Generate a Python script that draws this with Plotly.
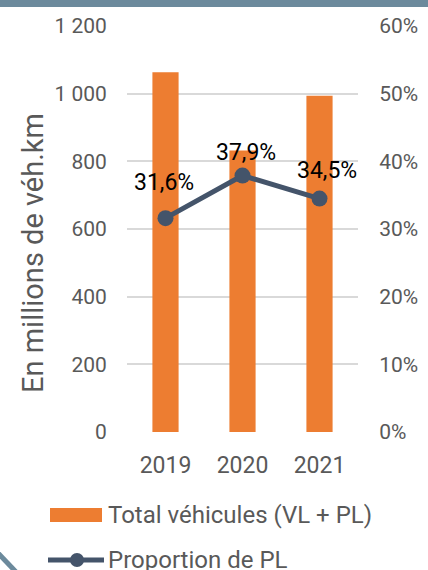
import plotly.graph_objects as go

years = ["2019", "2020", "2021"]
total_vehicules = [1063, 832, 994]
proportion_pl = [31.6, 37.9, 34.5]
proportion_labels = ["31,6%", "37,9%", "34,5%"]
y_ticks = [0, 200, 400, 600, 800, 1000, 1200]
y_tick_labels = ["0", "200", "400", "600", "800", "1 000", "1 200"]
y2_ticks = [0, 10, 20, 30, 40, 50, 60]
y2_tick_labels = ["0%", "10%", "20%", "30%", "40%", "50%", "60%"]

W, H = 428, 570
L, R, T, B = 127, 358, 26, 432

def px(x):
    return (x - L) / (R - L)

def py(y):
    return (B - y) / (B - T)

ORANGE = "#ED7D31"
NAVY = "#44546A"
GREY = "#595959"
FONT = "Roboto"

xpos = list(range(len(years)))

fig = go.Figure()
fig.add_trace(go.Bar(x=xpos, y=total_vehicules, marker=dict(color=ORANGE, line=dict(width=0)),
                     width=0.34, name="Total véhicules (VL + PL)", showlegend=False, yaxis="y"))
fig.add_trace(go.Scatter(x=xpos, y=proportion_pl, yaxis="y2", mode="lines+markers",
                         line=dict(color=NAVY, width=5), marker=dict(size=16, color=NAVY),
                         name="Proportion de PL", showlegend=False))

shifts = [(-2, 36), (3, 23), (7, 28)]
for xi, v, lab, (dx, dy) in zip(xpos, proportion_pl, proportion_labels, shifts):
    fig.add_annotation(x=xi, y=v, xref="x", yref="y2", text=lab, showarrow=False,
                       xshift=dx, yshift=dy, font=dict(family=FONT, size=23, color="#000000"))

# axis title
fig.add_annotation(x=px(33), y=py(253), xref="paper", yref="paper", text="En millions de véh.km",
                   textangle=-90, showarrow=False, xanchor="center", yanchor="middle",
                   font=dict(family=FONT, size=29, color=GREY))

# manual legend
fig.add_shape(type="rect", xref="paper", yref="paper", x0=px(50), x1=px(102), y0=py(508), y1=py(522),
              fillcolor=ORANGE, line=dict(width=0))
fig.add_annotation(x=px(106), y=py(515), xref="paper", yref="paper", text="Total véhicules (VL + PL)",
                   showarrow=False, xanchor="left", yanchor="middle",
                   font=dict(family=FONT, size=24, color=GREY))
fig.add_shape(type="line", xref="paper", yref="paper", x0=px(48), x1=px(104), y0=py(560), y1=py(560),
              line=dict(color=NAVY, width=5))
fig.add_shape(type="circle", xref="paper", yref="paper", x0=px(70), x1=px(84), y0=py(553), y1=py(567),
              fillcolor=NAVY, line=dict(width=0))
fig.add_annotation(x=px(106), y=py(560), xref="paper", yref="paper", text="Proportion de PL",
                   showarrow=False, xanchor="left", yanchor="middle",
                   font=dict(family=FONT, size=24, color=GREY))

# decorative frame pieces
fig.add_shape(type="rect", xref="paper", yref="paper", x0=px(-5), x1=px(435), y0=py(-5), y1=py(7),
              fillcolor="#6C8A9C", line=dict(width=0), layer="above")
fig.add_shape(type="line", xref="paper", yref="paper", x0=px(-3), x1=px(17), y0=py(552), y1=py(573),
              line=dict(color="#6C8A9C", width=5))

fig.update_layout(
    template="none",
    width=W, height=H,
    margin=dict(l=L, r=W - R, t=T, b=H - B, pad=0),
    paper_bgcolor="white", plot_bgcolor="white",
    font=dict(family=FONT, color=GREY),
    xaxis=dict(range=[-0.5, 2.5], tickvals=xpos, ticktext=years,
               tickfont=dict(size=23, color=GREY), showgrid=False, zeroline=False,
               ticks="outside", ticklen=12, tickcolor="rgba(0,0,0,0)", showline=False, automargin=False),
    yaxis=dict(range=[0, 1200], tickvals=y_ticks, ticktext=y_tick_labels, automargin=False,
               tickfont=dict(size=21, color=GREY), showgrid=True, gridcolor="#D9D9D9", gridwidth=1.5,
               zeroline=False, ticks="outside", ticklen=15, tickcolor="rgba(0,0,0,0)", showline=False),
    yaxis2=dict(range=[0, 60], tickvals=y2_ticks, ticktext=y2_tick_labels, overlaying="y", side="right",
                tickfont=dict(size=21, color=GREY), showgrid=False, zeroline=False, automargin=False,
                ticks="outside", ticklen=16, tickcolor="rgba(0,0,0,0)", showline=False),
)

fig.write_html("out.html", config={"displayModeBar": False},
               post_script="document.body.style.margin='0';document.body.style.overflow='hidden';")
